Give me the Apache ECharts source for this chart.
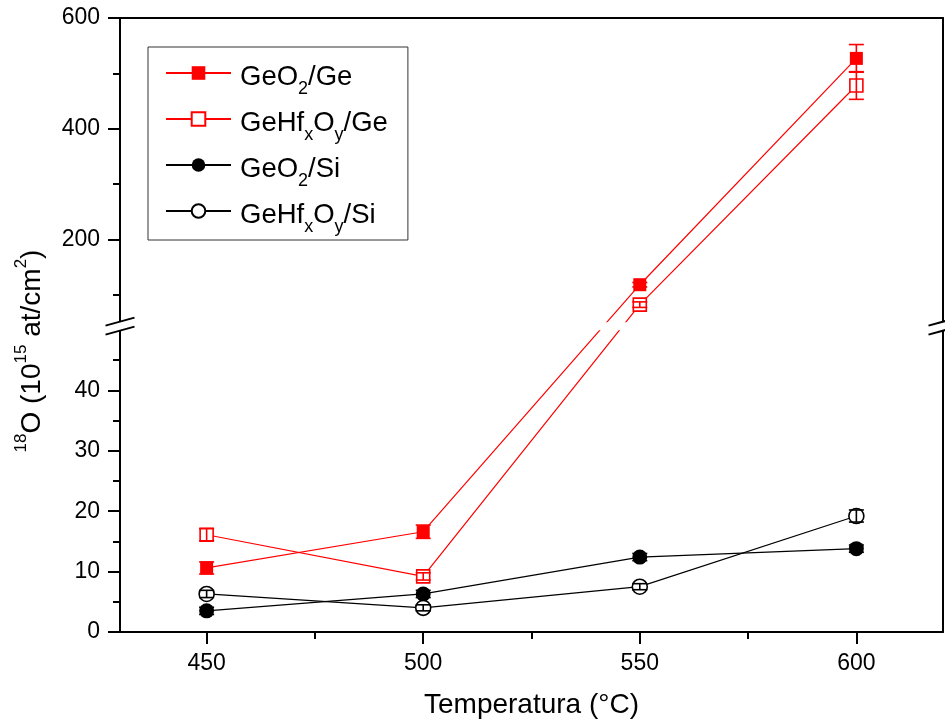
<!DOCTYPE html>
<html>
<head>
<meta charset="utf-8">
<script src="https://cdn.jsdelivr.net/npm/echarts@6/dist/echarts.min.js"></script>
<style>
  html, body { margin: 0; padding: 0; background: #fff; }
  #chart { width: 945px; height: 724px; }
</style>
</head>
<body>
<div id="chart"></div>
<script>
// Temperatures (°C) and 18O amounts (10^15 at/cm^2) with their uncertainties
const temps = [450, 500, 550, 600];
const geo2Ge = [10.6, 16.6, 118, 527];
const geo2GeErr = [1.0, 1.1, 4, 25];
const geHfGe = [16.1, 9.2, 82, 478];
const geHfGeErr = [1.0, 0.6, 5, 25];
const geo2Si = [3.5, 6.3, 12.4, 13.8];
const geo2SiErr = [0.6, 0.6, 0.6, 0.6];
const geHfSi = [6.3, 4.0, 7.5, 19.2];
const geHfSiErr = [0.6, 0.5, 0.5, 1.0];

const xMajorTicks = [450, 500, 550, 600];
const xMinorTicks = [475, 525, 575];
const yMajorTicks = [0, 10, 20, 30, 40, 200, 400, 600];
const yMinorTicks = [5, 15, 25, 35, 45, 100, 300, 500];

// Broken y axis: 0–50 drawn at full scale, 50–600 compressed above the break
const BREAK_AT = 50;
const Y_TOP = 600;
const BREAK_GAP = 1.26;
const UPPER_RATIO = 0.0916;
function toAxis(v) {
  return v <= BREAK_AT ? v : BREAK_AT + BREAK_GAP + (v - BREAK_AT) * UPPER_RATIO;
}
function fromAxis(d) {
  return d <= BREAK_AT + BREAK_GAP / 2 ? d : BREAK_AT + (d - BREAK_AT - BREAK_GAP) / UPPER_RATIO;
}
const Y_MAX = toAxis(Y_TOP);

const FONT = 'Liberation Sans, Arial, sans-serif';

const seriesDefs = [
  { name: 'GeO2/Ge',    vals: geo2Ge, err: geo2GeErr, color: '#ff0000', symbol: 'rect',   size: 13, open: false },
  { name: 'GeHfxOy/Ge', vals: geHfGe, err: geHfGeErr, color: '#ff0000', symbol: 'rect',   size: 13, open: true },
  { name: 'GeO2/Si',    vals: geo2Si, err: geo2SiErr, color: '#000000', symbol: 'circle', size: 15, open: false },
  { name: 'GeHfxOy/Si', vals: geHfSi, err: geHfSiErr, color: '#000000', symbol: 'circle', size: 15, open: true }
];

const richNames = {
  'GeO2/Ge': '{n|GeO}{s|2}{n|/Ge}',
  'GeHfxOy/Ge': '{n|GeHf}{s|x}{n|O}{s|y}{n|/Ge}',
  'GeO2/Si': '{n|GeO}{s|2}{n|/Si}',
  'GeHfxOy/Si': '{n|GeHf}{s|x}{n|O}{s|y}{n|/Si}'
};

function errorRenderer(color) {
  return function (params, api) {
    const x = api.value(0);
    const lo = api.coord([x, api.value(1)]);
    const hi = api.coord([x, api.value(2)]);
    const w = 7.5;
    const st = { stroke: color, lineWidth: 1.6 };
    return {
      type: 'group',
      children: [
        { type: 'line', shape: { x1: lo[0], y1: lo[1], x2: hi[0], y2: hi[1] }, style: st },
        { type: 'line', shape: { x1: lo[0] - w, y1: lo[1], x2: lo[0] + w, y2: lo[1] }, style: st },
        { type: 'line', shape: { x1: hi[0] - w, y1: hi[1], x2: hi[0] + w, y2: hi[1] }, style: st }
      ]
    };
  };
}

const series = [];
seriesDefs.forEach(function (s) {
  series.push({
    name: s.name,
    type: 'line',
    xAxisIndex: 0,
    yAxisIndex: 0,
    data: temps.map(function (t, i) { return [t, toAxis(s.vals[i])]; }),
    symbol: s.symbol,
    symbolSize: s.size,
    showSymbol: true,
    lineStyle: { color: s.color, width: 1.2 },
    itemStyle: s.open
      ? { color: '#ffffff', borderColor: s.color, borderWidth: 1.6 }
      : { color: s.color, borderColor: s.color, borderWidth: 0 },
    emphasis: { disabled: true },
    z: 2
  });
});
seriesDefs.forEach(function (s) {
  series.push({
    name: s.name + ' error',
    type: 'custom',
    xAxisIndex: 0,
    yAxisIndex: 0,
    data: temps.map(function (t, i) {
      return [t, toAxis(s.vals[i] - s.err[i]), toAxis(s.vals[i] + s.err[i])];
    }),
    encode: { x: 0, y: [1, 2] },
    renderItem: errorRenderer(s.color),
    z: 3,
    silent: true
  });
});

const axisLineStyle = { color: '#000', width: 2 };

const option = {
  backgroundColor: '#ffffff',
  animation: false,
  textStyle: { fontFamily: FONT, color: '#000' },
  grid: { left: 120, right: 2, top: 18, bottom: 92, outerBoundsMode: 'none', containLabel: false },
  legend: {
    data: seriesDefs.map(function (s) { return s.name; }),
    orient: 'vertical',
    left: 148,
    top: 47,
    padding: [11, 20, 0, 17],
    itemWidth: 65,
    itemHeight: 17,
    itemGap: 2,
    borderColor: '#333',
    borderWidth: 1,
    selectedMode: false,
    backgroundColor: '#fff',
    formatter: function (name) { return richNames[name]; },
    textStyle: {
      color: '#000',
      fontFamily: FONT,
      padding: [0, 0, 0, 4],
      rich: {
        n: { fontFamily: FONT, fontSize: 27.5, lineHeight: 30, verticalAlign: 'top', padding: [5.5, 0, 0, 0], color: '#000' },
        s: { fontFamily: FONT, fontSize: 18, lineHeight: 18, verticalAlign: 'top', padding: [22.5, 0, 3.5, 0], color: '#000' }
      }
    }
  },
  xAxis: [
    {
      type: 'value', position: 'bottom', min: 430, max: 620,
      axisLine: { show: true, onZero: false, lineStyle: axisLineStyle },
      axisTick: { show: true, inside: false, length: 12, customValues: xMajorTicks, lineStyle: { color: '#000', width: 2 } },
      axisLabel: { show: true, customValues: xMajorTicks, margin: 20, fontSize: 23, fontFamily: FONT, color: '#000' },
      splitLine: { show: false },
      name: 'Temperatura (°C)',
      nameLocation: 'middle',
      nameGap: 57,
      nameTextStyle: { fontSize: 28, fontFamily: FONT, color: '#000', lineHeight: 32 }
    },
    {
      type: 'value', position: 'bottom', min: 430, max: 620,
      axisLine: { show: false, onZero: false },
      axisTick: { show: true, inside: false, length: 7, customValues: xMinorTicks, lineStyle: { color: '#000', width: 2 } },
      axisLabel: { show: false },
      splitLine: { show: false }
    },
    {
      type: 'value', position: 'top', min: 430, max: 620,
      axisLine: { show: true, onZero: false, lineStyle: axisLineStyle },
      axisTick: { show: false },
      axisLabel: { show: false },
      splitLine: { show: false }
    }
  ],
  yAxis: [
    {
      type: 'value', position: 'left', min: 0, max: Y_MAX,
      axisLine: { show: true, onZero: false, lineStyle: axisLineStyle },
      axisTick: { show: true, inside: false, length: 12, customValues: yMajorTicks.map(toAxis), lineStyle: { color: '#000', width: 2 } },
      axisLabel: {
        show: true, customValues: yMajorTicks.map(toAxis), margin: 20, fontSize: 23, fontFamily: FONT, color: '#000',
        formatter: function (d) { return String(Math.round(fromAxis(d))); }
      },
      splitLine: { show: false },
      name: '{s|18}{n|O (10}{s|15}{n| at/cm}{s|2}{n|)}',
      nameLocation: 'middle',
      nameRotate: 90,
      nameGap: 73,
      nameTextStyle: {
        color: '#000',
        fontFamily: FONT,
        padding: [0, 52, 0, 0],
        rich: {
          n: { fontFamily: FONT, fontSize: 28, lineHeight: 34, verticalAlign: 'top', padding: [5, 0, 0, 0], color: '#000' },
          s: { fontFamily: FONT, fontSize: 17, lineHeight: 17, verticalAlign: 'top', padding: [0, 0, 0, 0], color: '#000' }
        }
      }
    },
    {
      type: 'value', position: 'left', min: 0, max: Y_MAX,
      axisLine: { show: false, onZero: false },
      axisTick: { show: true, inside: false, length: 7, customValues: yMinorTicks.map(toAxis), lineStyle: { color: '#000', width: 2 } },
      axisLabel: { show: false },
      splitLine: { show: false }
    },
    {
      type: 'value', position: 'right', min: 0, max: Y_MAX,
      axisLine: { show: true, onZero: false, lineStyle: axisLineStyle },
      axisTick: { show: false },
      axisLabel: { show: false },
      splitLine: { show: false }
    }
  ],
  series: series
};

const chart = echarts.init(document.getElementById('chart'), null, { renderer: 'canvas' });
chart.setOption(option);

// Axis-break marks: a white gap with two slanted strokes on each vertical axis
const yc = chart.convertToPixel({ yAxisIndex: 0 }, BREAK_AT + BREAK_GAP / 2);
const xl = chart.convertToPixel({ xAxisIndex: 0 }, 430);
const xr = chart.convertToPixel({ xAxisIndex: 0 }, 620);
const half = 4.5, dx = 14.5, dy = 4;
function breakMarks(xc) {
  return [
    {
      type: 'polygon', z: 50,
      shape: { points: [[xc - dx, yc - half + dy], [xc + dx, yc - half - dy], [xc + dx, yc + half - dy], [xc - dx, yc + half + dy]] },
      style: { fill: '#fff' }
    },
    { type: 'line', z: 51, shape: { x1: xc - dx, y1: yc - half + dy, x2: xc + dx, y2: yc - half - dy }, style: { stroke: '#000', lineWidth: 2 } },
    { type: 'line', z: 51, shape: { x1: xc - dx, y1: yc + half + dy, x2: xc + dx, y2: yc + half - dy }, style: { stroke: '#000', lineWidth: 2 } }
  ];
}
chart.setOption({
  graphic: [
    { type: 'rect', z: 49, shape: { x: xl + 1, y: yc - 4, width: xr - xl - 2, height: 8 }, style: { fill: '#fff' } }
  ].concat(breakMarks(xl), breakMarks(xr))
});
</script>
</body>
</html>
